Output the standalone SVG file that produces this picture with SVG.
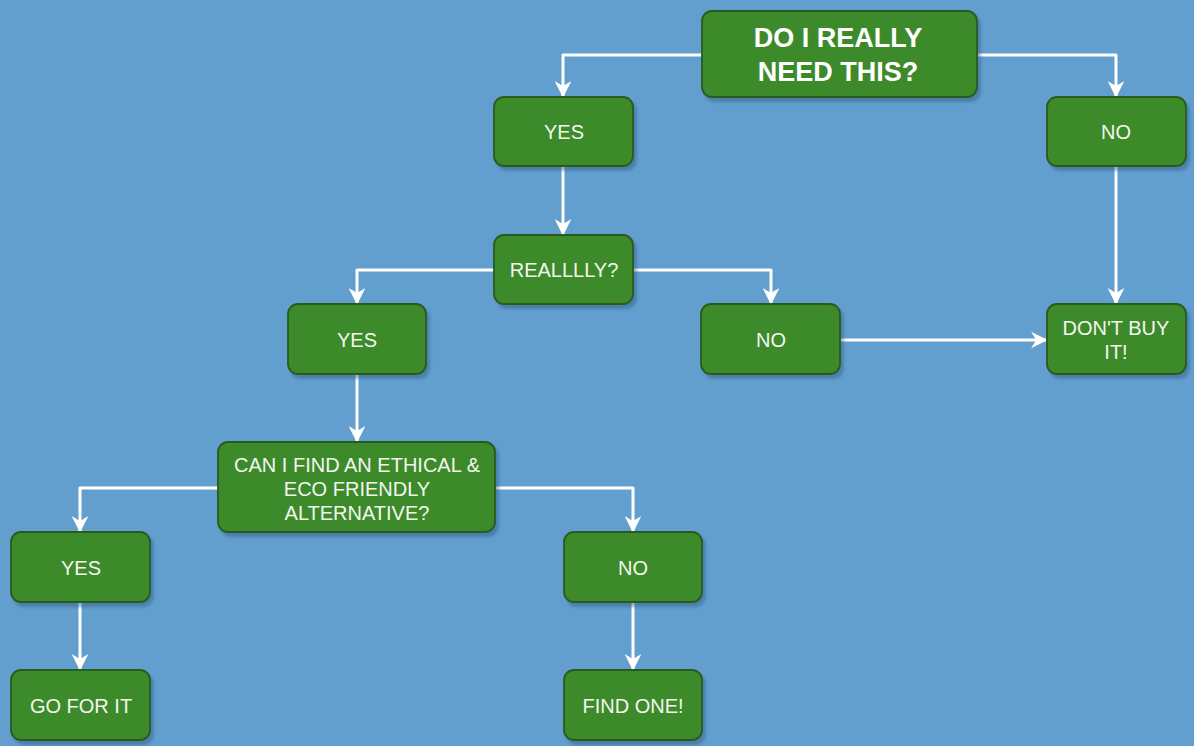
<svg xmlns="http://www.w3.org/2000/svg" width="1194" height="746" viewBox="0 0 1194 746">
<defs>
<marker id="ah" viewBox="0 0 10 10" refX="9" refY="5" markerWidth="5.5" markerHeight="5.5" orient="auto" markerUnits="strokeWidth">
<path d="M0,0 L10,5 L0,10 L3,5 Z" fill="#ffffff"/>
</marker>
<filter id="sh" x="-10%" y="-10%" width="125%" height="130%">
<feGaussianBlur in="SourceAlpha" stdDeviation="1.5"/>
<feOffset dx="3" dy="4" result="o"/>
<feFlood flood-color="#2c5a80" flood-opacity="0.45"/>
<feComposite in2="o" operator="in"/>
<feMerge><feMergeNode/><feMergeNode in="SourceGraphic"/></feMerge>
</filter>
</defs>
<style>
.n rect{fill:#3e8a29;stroke:#2a5a1b;stroke-width:1.8;filter:url(#sh)}
.n text{font-family:"Liberation Sans",Arial,sans-serif;font-size:20px;fill:#f2f7ee;text-anchor:middle}
.n text.b{font-size:27px;font-weight:bold;fill:#ffffff}
.c path{fill:none;stroke:#ffffff;stroke-width:3;stroke-linejoin:round;marker-end:url(#ah)}
</style>
<rect width="1194" height="746" fill="#629fcf"/>
<g id="connectors" class="c">
<path d="M702,55 L563,55 L563,96"/>
<path d="M977,55 L1116,55 L1116,96"/>
<path d="M563,166 L563,234"/>
<path d="M1116,166 L1116,303"/>
<path d="M494,270 L357,270 L357,303"/>
<path d="M633,270 L771,270 L771,303"/>
<path d="M840,340 L1046,340"/>
<path d="M357,374 L357,441"/>
<path d="M218,488 L80,488 L80,531"/>
<path d="M495,488 L633,488 L633,531"/>
<path d="M80,602 L80,669"/>
<path d="M633,602 L633,669"/>
</g>
<g id="n-need" class="n"><rect x="702" y="11" width="275" height="86" rx="10"/><text class="b" x="838" y="47">DO I REALLY</text><text class="b" x="838" y="81">NEED THIS?</text></g>
<g id="n-yes1" class="n"><rect x="494" y="97" width="139" height="69" rx="10"/><text x="564" y="139">YES</text></g>
<g id="n-no1" class="n"><rect x="1047" y="97" width="139" height="69" rx="10"/><text x="1116" y="139">NO</text></g>
<g id="n-really" class="n"><rect x="494" y="235" width="139" height="69" rx="10"/><text x="564" y="277">REALLLLY?</text></g>
<g id="n-yes2" class="n"><rect x="288" y="304" width="138" height="70" rx="10"/><text x="357" y="347">YES</text></g>
<g id="n-no2" class="n"><rect x="701" y="304" width="139" height="70" rx="10"/><text x="771" y="347">NO</text></g>
<g id="n-dontbuy" class="n"><rect x="1047" y="304" width="139" height="70" rx="10"/><text x="1116" y="335">DON'T BUY</text><text x="1116" y="359">IT!</text></g>
<g id="n-ethical" class="n"><rect x="218" y="442" width="277" height="90" rx="10"/><text x="357" y="472">CAN I FIND AN ETHICAL &amp;</text><text x="357" y="496">ECO FRIENDLY</text><text x="357" y="520">ALTERNATIVE?</text></g>
<g id="n-yes3" class="n"><rect x="11" y="532" width="139" height="70" rx="10"/><text x="81" y="575">YES</text></g>
<g id="n-no3" class="n"><rect x="564" y="532" width="138" height="70" rx="10"/><text x="633" y="575">NO</text></g>
<g id="n-gofor" class="n"><rect x="11" y="670" width="139" height="70" rx="10"/><text x="81" y="713">GO FOR IT</text></g>
<g id="n-findone" class="n"><rect x="564" y="670" width="138" height="70" rx="10"/><text x="633" y="713">FIND ONE!</text></g>
</svg>
